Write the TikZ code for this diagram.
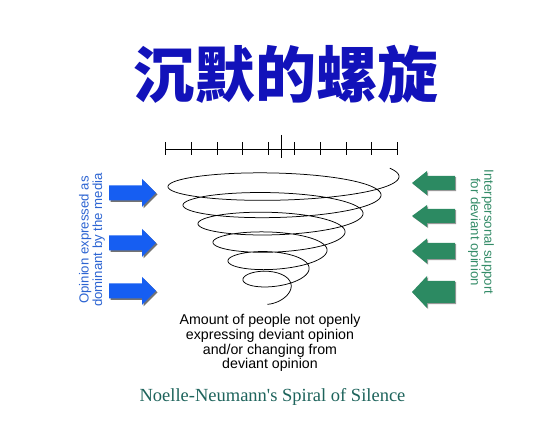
\documentclass[tikz,border=0pt]{standalone}
\usepackage{fontspec}
\setmainfont{Liberation Sans}
\newfontfamily\capfont{Liberation Serif}
\newfontfamily\cjk{Noto Sans CJK SC}
\usetikzlibrary{shadows}
\definecolor{titleblue}{RGB}{18,18,186}
\definecolor{arrowblue}{RGB}{22,94,242}
\definecolor{mediablue}{RGB}{44,100,210}
\definecolor{arrowgreen}{RGB}{44,138,98}
\definecolor{supportgreen}{RGB}{52,140,104}
\definecolor{captiongreen}{RGB}{30,100,92}
\tikzstyle{titletext} = [font=\cjk\bfseries\fontsize{61}{61}\selectfont, text=titleblue, inner sep=0pt]
\tikzstyle{sidetext} = [font=\fontsize{13.2}{13.4}\selectfont, align=center, inner sep=0pt]
\tikzstyle{bodytext} = [font=\fontsize{14.2}{14.7}\selectfont, align=center, inner sep=0pt]
\tikzstyle{captiontext} = [font=\capfont\fontsize{18.5}{18.5}\selectfont, text=captiongreen, inner sep=0pt]
\tikzstyle{bar} = [line width=0.9pt]
\tikzstyle{spiral} = [line width=0.75pt, line join=round]
\tikzstyle{bluearrow} = [fill=arrowblue, drop shadow={shadow xshift=1.5pt, shadow yshift=-1.5pt, fill=black!55, opacity=1}]
\tikzstyle{greenarrow} = [fill=arrowgreen, drop shadow={shadow xshift=1.2pt, shadow yshift=-1.2pt, fill=black!40, opacity=1}]

\begin{document}
\begin{tikzpicture}[x=1pt, y=-1pt]
            \useasboundingbox [fill=white] (0,0) rectangle (552,446);
            \node (title) [titletext] at (285.5,74) {沉默的螺旋};
            \coordinate (barleft) at (165,149);
            \coordinate (barright) at (397,149);
            \draw [bar] (barleft) -- (barright);
            \foreach \t in {165,191,217,242,268,294,320,346,371,397}
                \draw [bar] (\t,142.5) -- (\t,155.5);
            \draw [bar] (281,135) -- (281,158);

            \draw [spiral] plot [domain=0.1:6.45, samples=700, smooth] ({280-1.5*\x+(122-16.5*\x)*cos(360*\x-60)}, {174+18.5*(\x-sin(360*\x+120)/6.283)+(16-1.2*\x)*sin(360*\x-60)});

            \foreach \y in {193,243,291}
                \fill [bluearrow, shift={(0,\y)}] (109,-7.5) -- (142,-7.5) -- (142,-14) -- (156,0) -- (142,14) -- (142,7.5) -- (109,7.5) -- cycle;
            \foreach \y/\h/\b in {183/12/7, 216/11/7, 251/12.5/8, 292/16/11}
                \fill [greenarrow, shift={(0,\y)}] (455,-\b) -- (427,-\b) -- (427,-\h) -- (412,0) -- (427,\h) -- (427,\b) -- (455,\b) -- cycle;

            \node (media) [sidetext, text=mediablue, rotate=90] at (92,240) {Opinion expressed as\\dominant by the media};
            \node (support) [sidetext, text=supportgreen, rotate=-90] at (481,232) {Interpersonal support\\for deviant opinion};
            \node (amount) [bodytext] at (270,343) {Amount of people not openly\\expressing deviant opinion\\and/or changing from\\deviant opinion};
            \node (caption) [captiontext, anchor=base] at (272.5,402) {Noelle-Neumann's Spiral of Silence};
\end{tikzpicture}
\end{document}
